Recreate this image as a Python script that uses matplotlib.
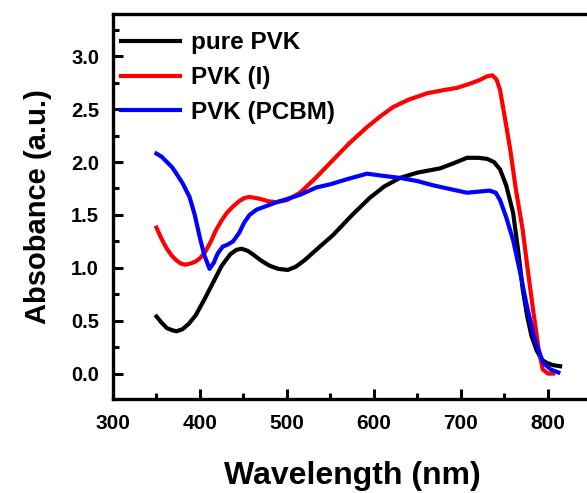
import numpy as np
import matplotlib.pyplot as plt
from matplotlib.ticker import MultipleLocator

plt.rcParams['font.family'] = ['Liberation Sans', 'DejaVu Sans']
plt.rcParams['font.weight'] = 'bold'

# pure PVK
wl_pure = [350, 356, 362, 368, 373, 380, 387, 395, 405, 415, 425, 435, 442, 448, 455, 462, 470,
           480, 490, 501, 510, 520, 535, 553, 575, 595, 612, 630, 650, 676, 692, 707, 720, 730,
           738, 745, 752, 760, 766, 771, 776, 781, 787, 793, 799, 806, 814]
abs_pure = [0.54, 0.48, 0.43, 0.41, 0.40, 0.42, 0.47, 0.55, 0.70, 0.86, 1.02, 1.13, 1.17, 1.18,
            1.16, 1.12, 1.07, 1.02, 0.99, 0.98, 1.01, 1.07, 1.18, 1.31, 1.50, 1.66, 1.77, 1.85,
            1.90, 1.94, 1.99, 2.04, 2.04, 2.03, 2.00, 1.93, 1.78, 1.52, 1.15, 0.80, 0.55, 0.36,
            0.22, 0.13, 0.10, 0.08, 0.07]

# PVK (I)
wl_i = [350, 356, 362, 368, 373, 378, 383, 389, 395, 400, 406, 412, 418, 425, 431, 438, 445,
        451, 457, 464, 470, 478, 488, 500, 515, 533, 553, 572, 592, 607, 622, 640, 661, 680,
        695, 710, 720, 730, 736, 741, 745, 749, 753, 757, 763, 771, 777, 783, 789, 794, 800, 806]
abs_i = [1.38, 1.27, 1.18, 1.11, 1.07, 1.04, 1.03, 1.04, 1.06, 1.09, 1.15, 1.24, 1.35, 1.45,
         1.52, 1.58, 1.63, 1.66, 1.67, 1.66, 1.65, 1.63, 1.62, 1.64, 1.71, 1.85, 2.02, 2.18,
         2.33, 2.43, 2.52, 2.59, 2.65, 2.68, 2.70, 2.74, 2.77, 2.81, 2.82, 2.78, 2.68, 2.49,
         2.30, 2.10, 1.75, 1.36, 0.97, 0.60, 0.25, 0.04, 0.00, 0.00]

# PVK (PCBM)
wl_pcbm = [350, 356, 362, 368, 373, 380, 388, 394, 400, 405, 411, 416, 420, 426, 432, 438, 445,
           451, 457, 465, 475, 488, 500, 515, 534, 550, 570, 592, 610, 630, 650, 668, 690, 707,
           720, 733, 740, 745, 752, 760, 768, 775, 783, 789, 795, 803, 812]
abs_pcbm = [2.08, 2.05, 2.00, 1.95, 1.89, 1.80, 1.67, 1.50, 1.28, 1.12, 0.99, 1.05, 1.13, 1.20,
            1.22, 1.25, 1.33, 1.43, 1.50, 1.55, 1.58, 1.62, 1.65, 1.69, 1.76, 1.79, 1.84, 1.89,
            1.87, 1.85, 1.82, 1.78, 1.74, 1.71, 1.72, 1.73, 1.71, 1.64, 1.48, 1.26, 0.96, 0.67,
            0.38, 0.22, 0.10, 0.04, 0.01]

fig = plt.figure(figsize=(5.87, 4.93), dpi=100)
ax = fig.add_axes([0.1925, 0.1907, 0.815, 0.781])

ax.plot(wl_pure, abs_pure, color='black', lw=3, label='pure PVK')
ax.plot(wl_i, abs_i, color='#ff0000', lw=3, label='PVK (I)')
ax.plot(wl_pcbm, abs_pcbm, color='#0000ff', lw=3, label='PVK (PCBM)')

ax.set_xlim(300, 850)
ax.set_ylim(-0.24, 3.4)
ax.xaxis.set_minor_locator(MultipleLocator(50))
ax.yaxis.set_minor_locator(MultipleLocator(0.25))
ax.set_xticks([300, 400, 500, 600, 700, 800])
ax.set_yticks([0, 0.5, 1.0, 1.5, 2.0, 2.5, 3.0])
ax.yaxis.set_major_formatter(plt.FuncFormatter(lambda v, p: f'{v:.1f}'))

ax.tick_params(which='both', direction='in', width=2.2)
ax.tick_params(axis='x', labelsize=15)
ax.tick_params(axis='y', labelsize=14.5)
ax.tick_params(which='major', length=7.5)
ax.tick_params(axis='x', which='major', pad=11)
ax.tick_params(axis='y', which='major', pad=10)
ax.tick_params(which='minor', length=4)
for s in ax.spines.values():
    s.set_linewidth(2.4)

ax.set_xlabel('Wavelength (nm)', fontsize=23, fontweight='bold', labelpad=20)
ax.set_ylabel('Absobance (a.u.)', fontsize=21, fontweight='bold', labelpad=14)

ax.legend(loc='upper left', frameon=False, fontsize=17.5, handlelength=2.4,
          handletextpad=0.45, labelspacing=0.48, borderaxespad=0.0,
          bbox_to_anchor=(-0.003, 0.98))

fig.savefig('out.png', dpi=100)
